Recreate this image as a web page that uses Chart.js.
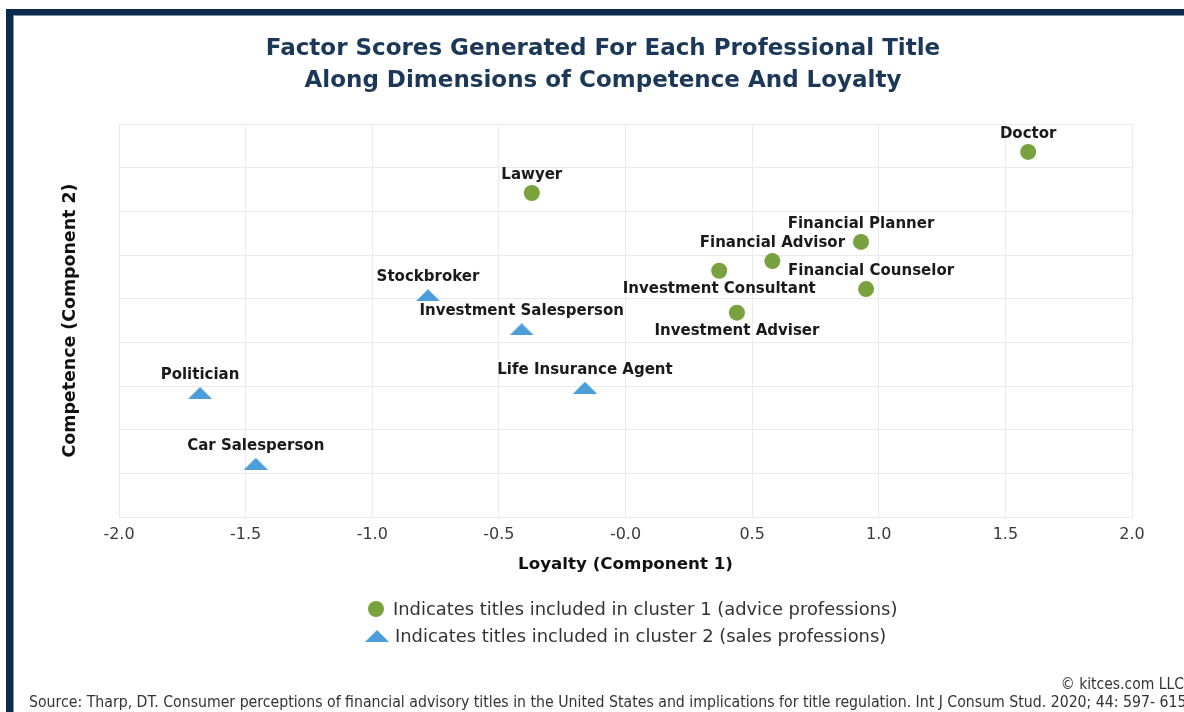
<!DOCTYPE html>
<html>
<head>
<meta charset="utf-8">
<script src="https://cdn.jsdelivr.net/npm/chart.js@4.4.1/dist/chart.umd.min.js"></script>
<style>
  html, body { margin: 0; padding: 0; background: #fff; overflow: hidden; }
  #wrap { position: relative; width: 1184px; height: 712px; }
  #frame { position: absolute; left: 6px; top: 9px; width: 1300px; height: 800px;
           border-left: 7px solid #0c2a4b; border-top: 6px solid #0c2a4b;
           box-shadow: inset 1px 1px 0 #7f95ad; }
  #chart { position: absolute; left: 0; top: 0; }
  #title { position: absolute; left: 0; top: 31px; width: 1206px; text-align: center;
           font: bold 23px "DejaVu Sans", sans-serif; line-height: 32px; color: #1b3858; }
  #copy { position: absolute; right: 0px; top: 675px; font: 15.5px "DejaVu Sans Condensed", sans-serif;
          color: #333; white-space: nowrap; }
  #source { position: absolute; left: 29px; top: 692px; font: 15.7px "DejaVu Sans Condensed", sans-serif;
            color: #333; white-space: nowrap; }
</style>
</head>
<body>
<div id="wrap">
  <div id="frame"></div>
  <canvas id="chart" width="1184" height="712"></canvas>
  <div id="title">Factor Scores Generated For Each Professional Title<br>Along Dimensions of Competence And Loyalty</div>
  <div id="copy">© kitces.com LLC</div>
  <div id="source">Source: Tharp, DT. Consumer perceptions of financial advisory titles in the United States and implications for title regulation. Int J Consum Stud. 2020; 44: 597- 615</div>
</div>
<script>
// ---- Data ----
const adviceTitles = ['Doctor', 'Lawyer', 'Financial Planner', 'Financial Advisor', 'Investment Consultant', 'Financial Counselor', 'Investment Adviser'];
const adviceLoyalty = [1.59, -0.37, 0.93, 0.58, 0.37, 0.95, 0.44];
const adviceCompetence = [2.18, 1.71, 1.15, 0.93, 0.82, 0.61, 0.34];

const salesTitles = ['Stockbroker', 'Investment Salesperson', 'Life Insurance Agent', 'Politician', 'Car Salesperson'];
const salesLoyalty = [-0.78, -0.41, -0.16, -1.68, -1.46];
const salesCompetence = [0.54, 0.15, -0.52, -0.58, -1.39];

const xTickLabels = ['-2.0', '-1.5', '-1.0', '-0.5', '-0.0', '0.5', '1.0', '1.5', '2.0'];
const legendLabels = ['Indicates titles included in cluster 1 (advice professions)',
                      'Indicates titles included in cluster 2 (sales professions)'];

// ---- Label placement (style, not data) ----
const labelPlacement = {
  'Investment Consultant': { dy: 18 },
  'Investment Adviser': { dy: 18 },
  'Financial Counselor': { dx: 5 }
};

const GREEN = '#79a23e';
const BLUE = '#4b9ed8';

// flattened triangle marker
function makeTriangle(w, h, color) {
  const cv = document.createElement('canvas');
  cv.width = w; cv.height = h;
  const g = cv.getContext('2d');
  g.fillStyle = color;
  g.beginPath();
  g.moveTo(w / 2, 0);
  g.lineTo(w, h);
  g.lineTo(0, h);
  g.closePath();
  g.fill();
  return cv;
}
const triangle = makeTriangle(24, 12, BLUE);

const toPoints = (xs, ys, names) => xs.map((x, i) => ({ x: x, y: ys[i], name: names[i] }));

const pointLabels = {
  id: 'pointLabels',
  afterDatasetsDraw(chart) {
    const ctx = chart.ctx;
    ctx.save();
    ctx.font = 'bold 15px "DejaVu Sans", sans-serif';
    ctx.fillStyle = '#1a1a1a';
    ctx.textAlign = 'center';
    ctx.textBaseline = 'middle';
    chart.data.datasets.forEach((ds, di) => {
      const meta = chart.getDatasetMeta(di);
      meta.data.forEach((el, i) => {
        const name = ds.data[i].name;
        const p = labelPlacement[name] || {};
        const dx = p.dx || 0;
        const dy = p.dy || -18;
        ctx.fillText(name, el.x + dx, el.y + dy);
      });
    });
    ctx.restore();
  }
};

const customLegend = {
  id: 'customLegend',
  afterDraw(chart) {
    const ctx = chart.ctx;
    ctx.save();
    ctx.font = '17.9px "DejaVu Sans", sans-serif';
    ctx.textAlign = 'left';
    ctx.textBaseline = 'middle';
    // circle entry
    ctx.fillStyle = GREEN;
    ctx.beginPath();
    ctx.arc(376, 609, 8, 0, Math.PI * 2);
    ctx.fill();
    ctx.fillStyle = '#333';
    ctx.fillText(chart.data.datasets[0].label, 393, 610);
    // triangle entry
    ctx.drawImage(triangle, 365, 630);
    ctx.fillText(chart.data.datasets[1].label, 395, 637);
    ctx.restore();
  }
};

new Chart(document.getElementById('chart'), {
  type: 'scatter',
  data: {
    datasets: [
      {
        label: legendLabels[0],
        data: toPoints(adviceLoyalty, adviceCompetence, adviceTitles),
        pointStyle: 'circle',
        pointRadius: 8,
        pointHoverRadius: 8,
        backgroundColor: GREEN,
        borderColor: GREEN,
        borderWidth: 0
      },
      {
        label: legendLabels[1],
        data: toPoints(salesLoyalty, salesCompetence, salesTitles),
        pointStyle: triangle,
        pointRadius: 8,
        backgroundColor: BLUE,
        borderColor: BLUE,
        borderWidth: 0
      }
    ]
  },
  options: {
    responsive: false,
    animation: false,
    devicePixelRatio: 1,
    layout: { padding: { left: 0, top: 124, right: 52, bottom: 130 } },
    plugins: {
      legend: { display: false },
      title: { display: false },
      tooltip: { enabled: false }
    },
    scales: {
      x: {
        type: 'linear',
        min: -2, max: 2,
        ticks: {
          stepSize: 0.5,
          padding: 8,
          color: '#3a3a3a',
          font: { family: '"DejaVu Sans", sans-serif', size: 16 },
          callback: (v, i) => xTickLabels[i]
        },
        grid: { color: '#ebebeb', drawTicks: false },
        border: { color: '#ebebeb' },
        title: {
          display: true,
          text: 'Loyalty (Component 1)',
          color: '#111',
          font: { family: '"DejaVu Sans", sans-serif', size: 16.7, weight: 'bold' },
          padding: { top: 0, bottom: 7 }
        },
        afterFit: (s) => { s.height = 65; }
      },
      y: {
        type: 'linear',
        min: -2, max: 2.5,
        ticks: { stepSize: 0.5, display: false },
        grid: { color: '#ebebeb', drawTicks: false },
        border: { color: '#ebebeb' },
        title: {
          display: true,
          text: 'Competence (Component 2)',
          color: '#111',
          font: { family: '"DejaVu Sans", sans-serif', size: 17.4, weight: 'bold' },
          padding: { top: 60, bottom: 0 }
        },
        afterFit: (s) => { s.width = 119; }
      }
    }
  },
  plugins: [pointLabels, customLegend]
});
</script>
</body>
</html>
